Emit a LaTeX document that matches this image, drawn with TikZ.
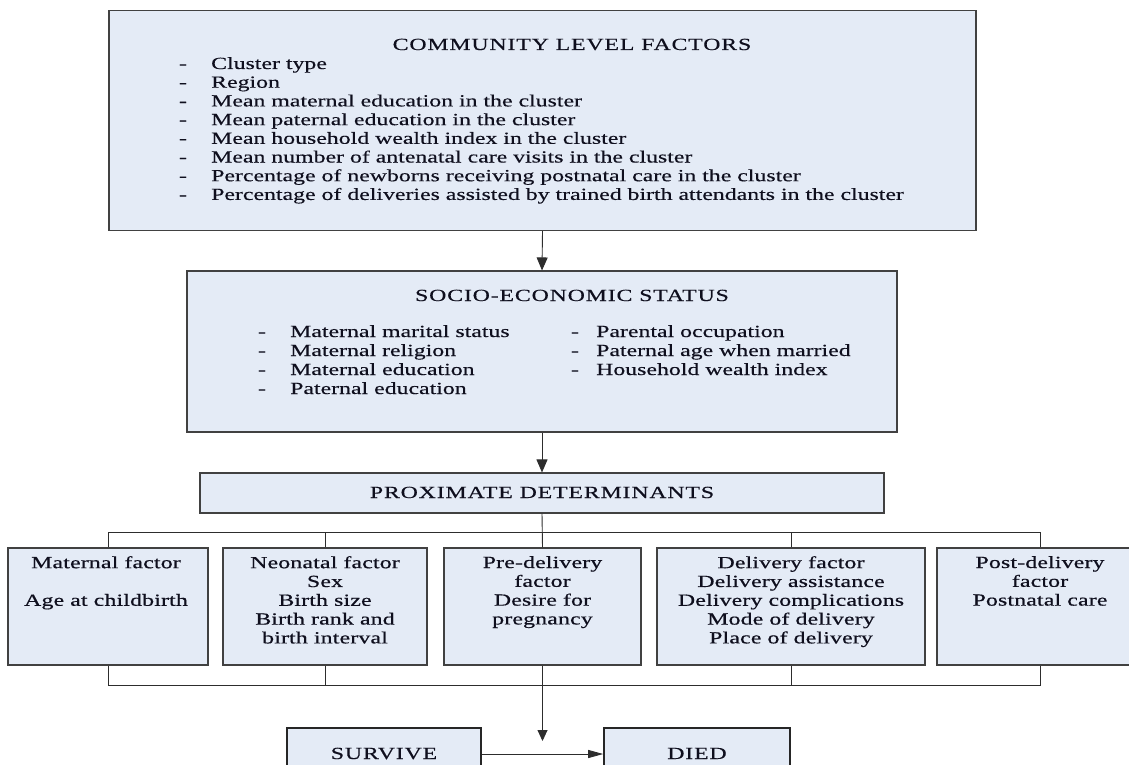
\documentclass[tikz,border=0pt]{standalone}
\usepackage{fontspec}
\setmainfont{Liberation Serif}[FakeStretch=1.4,FakeBold=0.3]
\newfontfamily\boxfont{Liberation Serif}[FakeStretch=1.4,LetterSpace=1,FakeBold=0.6]
\newfontfamily\headfont{Liberation Serif}[FakeStretch=1.4,LetterSpace=5,FakeBold=0.4]
\usetikzlibrary{arrows.meta}
\definecolor{boxfill}{RGB}{228,235,246}
\definecolor{boxline}{RGB}{65,65,65}
\definecolor{wire}{RGB}{45,45,45}
\definecolor{ink}{RGB}{15,15,30}
\tikzset{
  panel/.style={draw=boxline, fill=boxfill, line width=1.1pt, inner sep=0pt},
  endbox/.style={draw=black!85, fill=boxfill, line width=1.6pt, inner sep=0pt},
  txt/.style={inner sep=0pt, text=ink, font=\fontsize{17}{18.8}\selectfont},
  head/.style={inner sep=0pt, text=ink, anchor=base, font=\headfont\fontsize{17}{18.8}\selectfont},
  btxt/.style={inner sep=0pt, text=ink, align=center, anchor=north, font=\boxfont\fontsize{17}{18.8}\selectfont},
  wireline/.style={draw=wire, line width=0.9pt},
  flow/.style={wireline, -{Triangle[length=13pt,width=11pt]}},
}
\begin{document}
\begin{tikzpicture}[x=1pt,y=-1pt]
\useasboundingbox (0,0) rectangle (1129,765);
\clip (0,0) rectangle (1129,765);

% community level block
\node[panel, minimum width=867pt, minimum height=220pt] (clf) at (542.5,120.5) {};
\node[head] (clft) at (572,50) {COMMUNITY LEVEL FACTORS};
\foreach \t [count=\i] in {Cluster type, Region, Mean maternal education in the cluster,
  Mean paternal education in the cluster, Mean household wealth index in the cluster,
  Mean number of antenatal care visits in the cluster,
  Percentage of newborns receiving postnatal care in the cluster,
  Percentage of deliveries assisted by trained birth attendants in the cluster}{
  \node[txt, anchor=base] (cd\i) at (183,{69+18.7*(\i-1)}) {-};
  \node[txt, anchor=base west] (ci\i) at (211,{69+18.7*(\i-1)}) {\t};
}

% socio-economic block
\node[panel, minimum width=710pt, minimum height=161pt] (ses) at (542,351.5) {};
\node[head] (sest) at (572,301) {SOCIO-ECONOMIC STATUS};
\foreach \t [count=\i] in {Maternal marital status, Maternal religion, Maternal education, Paternal education}{
  \node[txt, anchor=base] (sld\i) at (262,{337+19*(\i-1)}) {-};
  \node[txt, anchor=base west] (sl\i) at (290,{337+19*(\i-1)}) {\t};
}
\foreach \t [count=\i] in {Parental occupation, Paternal age when married, Household wealth index}{
  \node[txt, anchor=base] (srd\i) at (575,{337+19*(\i-1)}) {-};
  \node[txt, anchor=base west] (sr\i) at (596,{337+19*(\i-1)}) {\t};
}

% proximate determinants
\node[panel, minimum width=684pt, minimum height=40pt] (pd) at (542,493) {};
\node[head] (pdt) at (542,498) {PROXIMATE DETERMINANTS};

% factor groups
\node[panel, minimum width=200pt, minimum height=117pt] (b1) at (108,606.5) {};
\node[panel, minimum width=204pt, minimum height=117pt] (b2) at (325,606.5) {};
\node[panel, minimum width=197pt, minimum height=117pt] (b3) at (542.5,606.5) {};
\node[panel, minimum width=268pt, minimum height=117pt] (b4) at (791,606.5) {};
\node[panel, minimum width=206pt, minimum height=117pt] (b5) at (1040,606.5) {};
\node[btxt] (b1t) at (106,556) {Maternal factor\\[18.8pt]Age at childbirth};
\node[btxt] (b2t) at (325,556) {Neonatal factor\\Sex\\Birth size\\Birth rank and\\birth interval};
\node[btxt] (b3t) at (542.5,556) {Pre-delivery\\factor\\Desire for\\pregnancy};
\node[btxt] (b4t) at (791,556) {Delivery factor\\Delivery assistance\\Delivery complications\\Mode of delivery\\Place of delivery};
\node[btxt] (b5t) at (1040,556) {Post-delivery\\factor\\Postnatal care};

% outcomes
\node[endbox, minimum width=194pt, minimum height=52pt] (surv) at (384,754) {};
\node[endbox, minimum width=186pt, minimum height=52pt] (died) at (697,754) {};
\node[head] (survt) at (384,759) {SURVIVE};
\node[head] (diedt) at (697,759) {DIED};
\coordinate (outtip) at (542.5,741);

% connectors
\draw[flow] (clf.south) -- (ses.north);
\draw[flow] (ses.south) -- (pd.north);
\draw[wireline] (pd.south) -- (b3.north);
\draw[wireline] (b1.north) -- ++(0,-15) -| (b5.north);
\draw[wireline] (b2.north) -- ++(0,-15);
\draw[wireline] (b4.north) -- ++(0,-15);
\draw[wireline] (b1.south) -- ++(0,20) -| (b5.south);
\draw[wireline] (b2.south) -- ++(0,20);
\draw[wireline] (b4.south) -- ++(0,20);
\draw[wireline, -{Triangle[length=11pt,width=10pt]}] (b3.south) -- (outtip);
\draw[wireline, -{Triangle[length=15pt,width=8pt]}] (surv.east) -- (died.west);
\end{tikzpicture}
\end{document}
